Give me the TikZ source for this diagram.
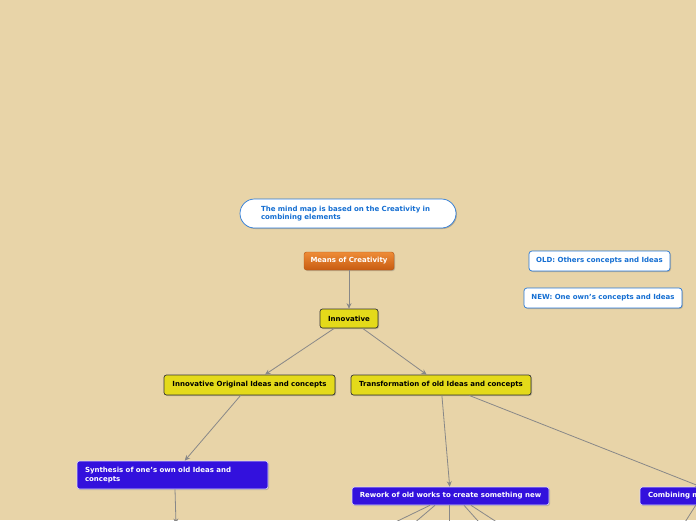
\documentclass[tikz,border=0pt]{standalone}
\usepackage{fontspec}
\setmainfont{DejaVu Sans}
\usetikzlibrary{shadows,arrows.meta,calc}
\definecolor{bg}{RGB}{232,212,168}
\definecolor{ylw}{RGB}{228,218,26}
\definecolor{blu}{RGB}{51,17,221}
\definecolor{otop}{RGB}{238,140,55}
\definecolor{obot}{RGB}{200,92,18}
\definecolor{nblue}{RGB}{40,120,215}
\definecolor{ntext}{RGB}{20,110,210}
\definecolor{edgec}{RGB}{136,136,136}
\tikzset{
  base/.style={font=\fontsize{7}{8.5}\selectfont\bfseries, inner sep=0pt, drop shadow={shadow xshift=1pt, shadow yshift=-1pt, opacity=0.35, fill=black!60}},
  yellowbox/.style={base, draw=black!80, line width=0.7pt, fill=ylw, rounded corners=2.5pt, text=black},
  bluebox/.style={base, draw=white!85!blu, line width=0.6pt, fill=blu, rounded corners=2.5pt, text=white},
  orangebox/.style={base, draw=obot!90!black, line width=0.4pt, top color=otop, bottom color=obot, rounded corners=2.5pt, text=white},
  notebox/.style={base, draw=nblue, line width=0.7pt, fill=white, rounded corners=3pt, text=ntext},
  edge/.style={draw=edgec, line width=0.8pt},
  arr/.style={edge, -{Stealth[length=5.5pt,width=5pt]}}
}
\begin{document}
\begin{tikzpicture}[x=1pt,y=-1pt]
\fill[bg] (0,0) rectangle (696,520);
\useasboundingbox (0,0) rectangle (696,520);
\begin{scope}
\clip (0,0) rectangle (696,520);
% nodes
\node[notebox, rounded corners=14.5pt, minimum width=216pt, minimum height=29pt, text width=174pt, inner xsep=21pt, align=left] (note) at (348,213.5)
  {\mbox{The mind map is based on the Creativity in}\\combining elements};
\node[orangebox, minimum width=90pt, minimum height=18pt] (means) at (349,261) {Means of Creativity};
\node[notebox, minimum width=141pt, minimum height=20pt] (old) at (599.5,261) {OLD: Others concepts and Ideas};
\node[notebox, minimum width=158pt, minimum height=20pt] (new) at (603,298) {NEW: One own's concepts and Ideas};
\node[yellowbox, minimum width=58pt, minimum height=19pt] (innov) at (349,318.5) {Innovative};
\node[yellowbox, minimum width=171pt, minimum height=20pt] (ioic) at (249.5,385) {Innovative Original Ideas and concepts};
\node[yellowbox, minimum width=180pt, minimum height=20pt] (trans) at (441,385) {Transformation of old Ideas and concepts};
\node[bluebox, minimum width=191pt, minimum height=28pt, text width=175pt, inner xsep=8pt, align=left] (synth) at (172.5,475)
  {\mbox{Synthesis of one's own old Ideas and}\\concepts};
\node[bluebox, minimum width=197pt, minimum height=18pt] (rework) at (450.5,496) {Rework of old works to create something new};
\node[bluebox, minimum width=120pt, minimum height=18pt, text width=104pt, inner xsep=8pt, align=left] (comb) at (700,496) {Combining m};
% free ends
\coordinate (synthEnd) at (176,524);
\coordinate (rw1) at (379,530);
\coordinate (rw2) at (406,530);
\coordinate (rw3) at (449,530);
\coordinate (rw4) at (486,530);
\coordinate (rw5) at (509,530);
\coordinate (cb1) at (680,530);
% connectors
\draw[arr] (means) -- (innov);
\draw[arr] (innov) -- (ioic);
\draw[arr] (innov) -- (trans);
\draw[arr] (ioic) -- (synth);
\draw[arr] (trans) -- (rework);
\draw[arr] ([xshift=28pt]trans.south) -- ([xshift=61pt]comb.north west);
\draw[arr] ([xshift=2.5pt]synth.south) -- (synthEnd);
\draw[edge] ([xshift=-20.5pt]rework.south) -- (rw1);
\draw[edge] ([xshift=-15.5pt]rework.south) -- (rw2);
\draw[edge] ([xshift=-1.5pt]rework.south) -- (rw3);
\draw[edge] ([xshift=13.5pt]rework.south) -- (rw4);
\draw[edge] ([xshift=20.5pt]rework.south) -- (rw5);
\draw[edge] ([xshift=56pt]comb.south west) -- (cb1);
\end{scope}
\end{tikzpicture}
\end{document}
